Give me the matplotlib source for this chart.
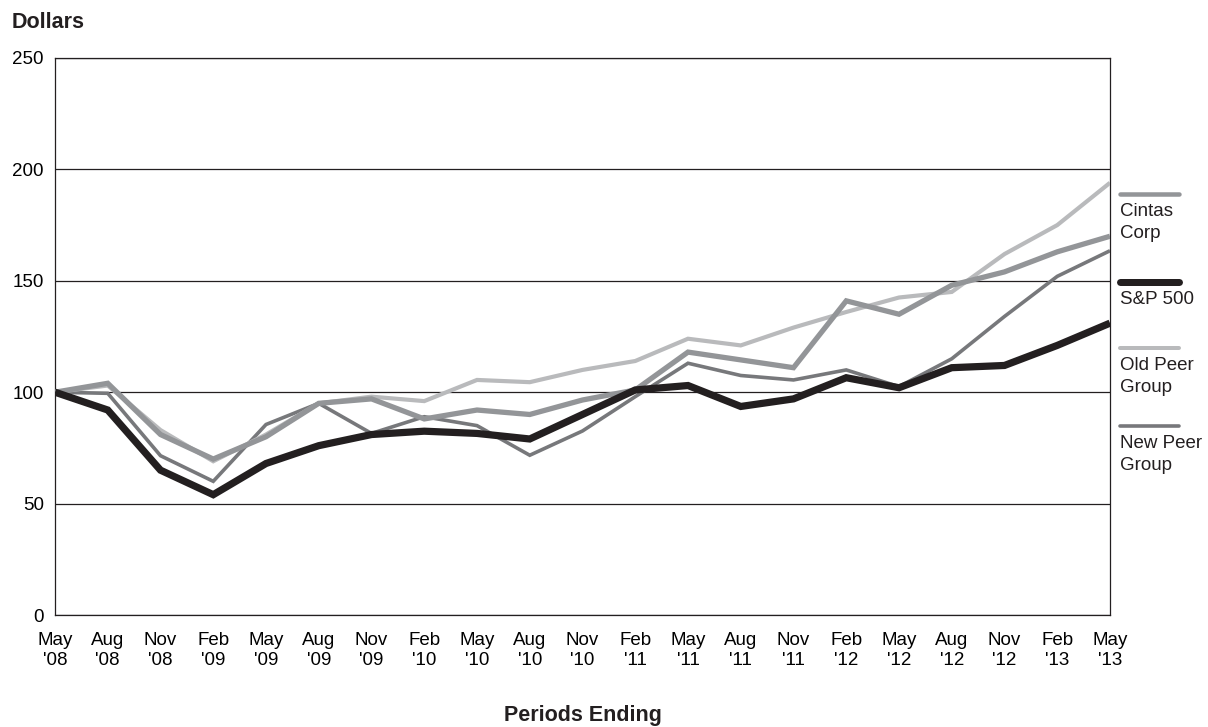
import matplotlib
matplotlib.use("Agg")
import matplotlib.pyplot as plt
from matplotlib.lines import Line2D

plt.rcParams['font.family'] = ['Liberation Sans', 'DejaVu Sans']

periods = ["May\n'08", "Aug\n'08", "Nov\n'08", "Feb\n'09", "May\n'09", "Aug\n'09", "Nov\n'09",
           "Feb\n'10", "May\n'10", "Aug\n'10", "Nov\n'10", "Feb\n'11", "May\n'11", "Aug\n'11",
           "Nov\n'11", "Feb\n'12", "May\n'12", "Aug\n'12", "Nov\n'12", "Feb\n'13", "May\n'13"]

cintas = [100, 104, 81, 70, 80, 95, 97, 88, 92, 90, 96.5, 101, 118, 114.5, 111, 141, 135, 148, 154, 163, 170]
sp500 = [100, 92, 65, 54, 68, 76, 81, 82.5, 81.5, 79, 90, 101, 103, 93.6, 97, 106.5, 102, 111, 112, 121, 131]
old_peer = [100, 103, 83, 69, 81, 95, 98, 96, 105.5, 104.5, 110, 114, 124, 121, 129, 136, 142.5, 145, 162, 175, 194]
new_peer = [100, 99.5, 71.5, 60, 85.5, 95, 81.5, 89, 85, 71.7, 82.6, 98, 113, 107.5, 105.5, 110, 102.5, 115, 134, 152, 163.5]

C_CINTAS, C_SP, C_OLD, C_NEW = "#939598", "#231f20", "#b9babc", "#77787b"
W_CINTAS, W_SP, W_OLD, W_NEW = 3.8, 5.2, 3.0, 2.6

series = [
    (new_peer, C_NEW, W_NEW),
    (old_peer, C_OLD, W_OLD),
    (cintas, C_CINTAS, W_CINTAS),
    (sp500, C_SP, W_SP),
]

fig = plt.figure(figsize=(12.08, 7.27), dpi=100)
ax = fig.add_axes([55/1208, 1-615/727, (1110-55)/1208, (615-58)/727])

x = list(range(len(periods)))
for vals, col, lw in series:
    ax.plot(x, vals, color=col, lw=lw, solid_capstyle='butt', solid_joinstyle='miter', zorder=3)

ax.set_xlim(0, len(periods)-1)
ax.set_ylim(0, 250)
ax.set_yticks([0, 50, 100, 150, 200, 250])
ax.set_xticks(x)
ax.set_xticklabels(periods, fontsize=13.5, linespacing=1.25)
ax.tick_params(axis='y', labelsize=13.5, length=0, pad=8)
ax.tick_params(axis='x', length=0, pad=12)
ax.grid(axis='y', color='#231f20', lw=0.9)
ax.set_axisbelow(True)
for s in ax.spines.values():
    s.set_color('#231f20')
    s.set_linewidth(0.9)

fig.text(12/1208, 1-23/727, "Dollars", fontsize=15.5, fontweight='bold', va='center', ha='left', color='#231f20')
fig.text((55+1110)/2/1208, 1-716/727, "Periods Ending", fontsize=15.5, fontweight='bold',
         va='center', ha='center', color='#231f20')

# legend at right
legend_items = [
    ("Cintas\nCorp", C_CINTAS, 4.5, 194),
    ("S&P 500", C_SP, 7.0, 282),
    ("Old Peer\nGroup", C_OLD, 4.0, 348),
    ("New Peer\nGroup", C_NEW, 3.6, 426),
]
for name, col, lwpx, ypix in legend_items:
    yf = 1 - ypix/727
    fig.add_artist(Line2D([1120/1208, 1179/1208], [yf, yf], color=col, lw=lwpx*0.72,
                          solid_capstyle='round', transform=fig.transFigure))
    fig.text(1120/1208, yf - 9/727, name, fontsize=13.5, va='top', ha='left', linespacing=1.4,
             color='#231f20')

fig.savefig("out.png", dpi=100)
